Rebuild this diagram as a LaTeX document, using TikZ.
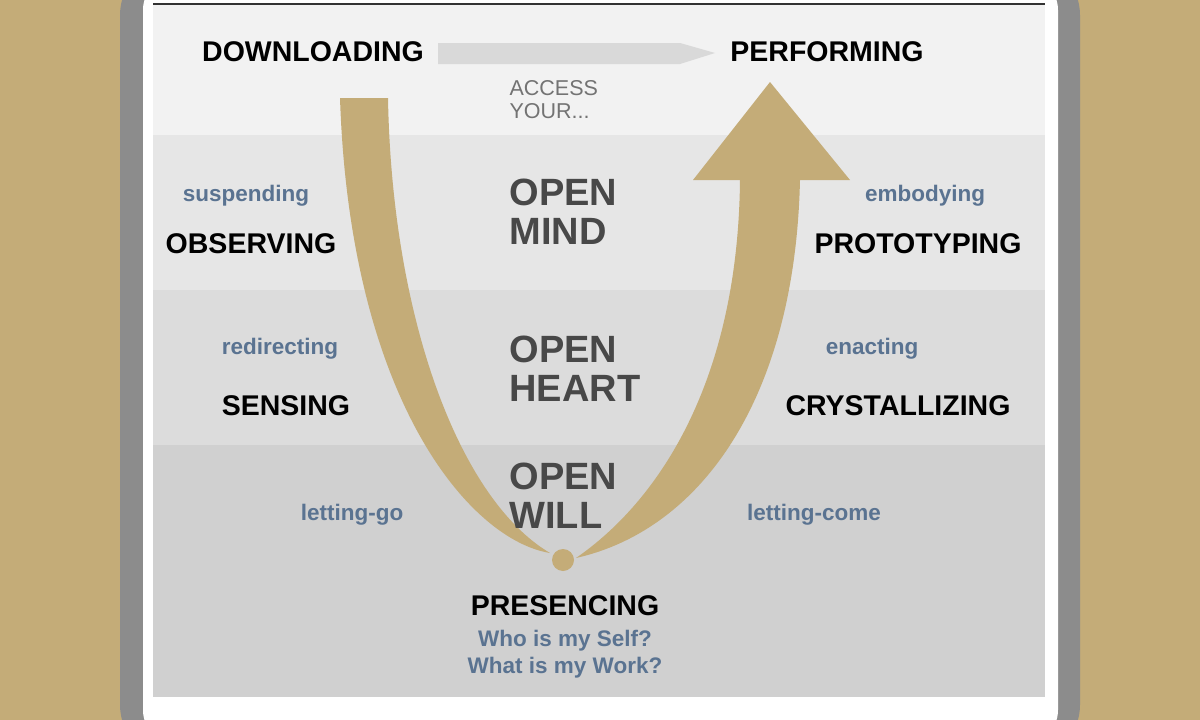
\documentclass[tikz,border=0pt]{standalone}
\usepackage{fontspec}
\setmainfont{Liberation Sans}
\usetikzlibrary{positioning}
\definecolor{tancolor}{RGB}{196, 172, 120}
\definecolor{framecolor}{RGB}{140, 140, 140}
\definecolor{bandone}{RGB}{242, 242, 242}
\definecolor{bandtwo}{RGB}{230, 230, 230}
\definecolor{bandthree}{RGB}{220, 220, 220}
\definecolor{bandfour}{RGB}{208, 208, 208}
\definecolor{verbcolor}{RGB}{90, 115, 145}
\definecolor{opencolor}{RGB}{72, 72, 72}
\definecolor{pointercolor}{RGB}{217, 217, 217}

\tikzset{
  stage/.style={font=\fontsize{28.5}{32}\selectfont\bfseries, text=black},
  verb/.style={font=\fontsize{22.5}{26}\selectfont\bfseries, text=verbcolor},
  opening/.style={font=\fontsize{38}{39}\selectfont\bfseries, text=opencolor, align=left, anchor=west},
}

\begin{document}
\begin{tikzpicture}[x=1pt, y=-1pt]
        % Background and frame
        \fill[tancolor] (0,0) rectangle (1200,720);
        \useasboundingbox (0,0) rectangle (1200,720);
        \fill[framecolor, rounded corners=55pt] (120,-40) rectangle (1080,760);
        \fill[white, rounded corners=35pt] (143,-25) rectangle (1058,745);
        
        % Bands
        \fill[bandone] (153,4) rectangle (1045,135);
        \fill[bandtwo] (153,135) rectangle (1045,290);
        \fill[bandthree] (153,290) rectangle (1045,445);
        \fill[bandfour] (153,445) rectangle (1045,697);
        \draw[black!80, line width=1.5pt] (153,4) -- (1045,4);
        
        % U arrow
        \fill[tancolor] (340,98) -- (388,98) .. controls (392,320) and (460,500) .. (550,553)
            .. controls (470,540) and (350,400) .. (340,98) -- cycle;
        \fill[tancolor] (576,558) .. controls (700,530) and (795,400) .. (800,180)
            -- (850,180) -- (770,82) -- (693,180) -- (740,180)
            .. controls (738,380) and (660,500) .. (576,558) -- cycle;
        \fill[tancolor] (563,560) circle (11);
        
        % Stages
        \node[stage] (down) at (313,52) {DOWNLOADING};
        \node[stage] (perform) at (827,52) {PERFORMING};
        \fill[pointercolor] (438,43) -- (680,43) -- (715,53) -- (680,64) -- (438,64) -- cycle;
        \node[font=\fontsize{21.5}{23}\selectfont, text=black!55, align=left, anchor=west] (access) at (506,100) {ACCESS\\YOUR...};
        
        \node[verb] (suspend) at (246,196) {suspending};
        \node[stage] (observe) at (251,244) {OBSERVING};
        \node[opening] (mind) at (506,212) {OPEN\\MIND};
        \node[verb] (embody) at (925,196) {embodying};
        \node[stage] (proto) at (918,244) {PROTOTYPING};
        
        \node[verb] (redirect) at (280,349) {redirecting};
        \node[stage] (sense) at (286,406) {SENSING};
        \node[opening] (heart) at (506,369) {OPEN\\HEART};
        \node[verb] (enact) at (872,349) {enacting};
        \node[stage] (crystal) at (898,406) {CRYSTALLIZING};
        
        \node[verb] (letgo) at (352,515) {letting-go};
        \node[opening] (will) at (506,496) {OPEN\\WILL};
        \node[verb] (letcome) at (814,515) {letting-come};
        
        % Presencing
        \node[stage] (presence) at (565,606) {PRESENCING};
        \node[verb, align=center, font=\fontsize{22.5}{27}\selectfont\bfseries] (questions) at (565,654) {Who is my Self?\\What is my Work?};
        
    \end{tikzpicture}
\end{document}
